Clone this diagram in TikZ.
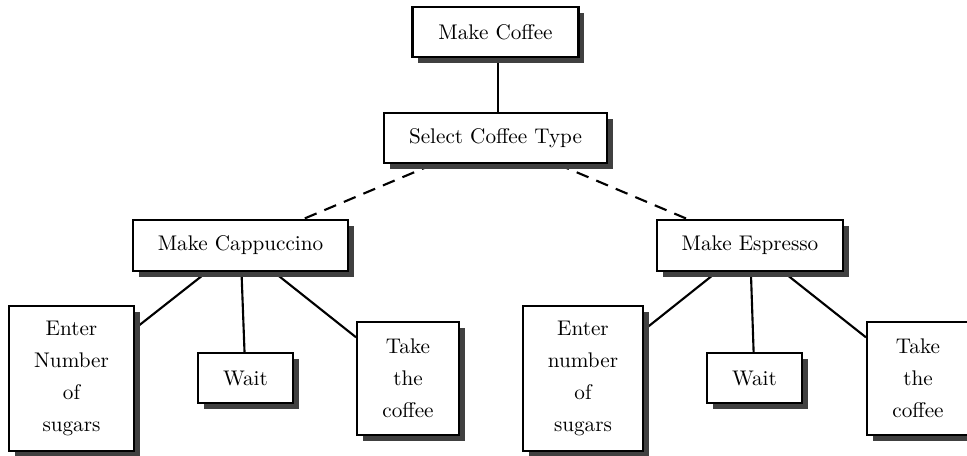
\documentclass[tikz,border=0pt]{standalone}
\usetikzlibrary{shadows,backgrounds}
\begin{document}
\begin{tikzpicture}[x=0.472pt,y=-0.472pt,
  box/.style={draw, line width=1pt, fill=white, align=center, inner sep=0pt,
    drop shadow={shadow xshift=2.8pt, shadow yshift=-2.8pt, fill=black!75, opacity=1}},
  link/.style={line width=1pt},
  dlink/.style={line width=1pt, dash pattern=on 6pt off 4pt}]
\useasboundingbox (0,0) rectangle (967,455);
\node[box, minimum width=78.4pt, minimum height=23.6pt] (mc) at (495.5,32) {Make Coffee};
\node[box, minimum width=105.3pt, minimum height=23.6pt] (sct) at (495.5,138) {Select Coffee Type};
\node[box, minimum width=101.5pt, minimum height=24.1pt] (cap) at (240.5,245.5) {Make Cappuccino};
\node[box, minimum width=87.8pt, minimum height=24.1pt] (esp) at (750,245.5) {Make Espresso};
\node[box, minimum width=59pt, minimum height=68.4pt] (e1) at (71.5,378.5) {Enter\\[3pt]Number\\[3pt]of\\[3pt]sugars};
\node[box, minimum width=44.8pt, minimum height=23.6pt] (w1) at (245.5,378) {Wait};
\node[box, minimum width=48.1pt, minimum height=53.3pt] (t1) at (408,378.5) {Take\\[3pt]the\\[3pt]coffee};
\node[box, minimum width=56.6pt, minimum height=68.4pt] (e2) at (583,378.5) {Enter\\[3pt]number\\[3pt]of\\[3pt]sugars};
\node[box, minimum width=44.8pt, minimum height=23.6pt] (w2) at (754.5,378) {Wait};
\node[box, minimum width=48.1pt, minimum height=53.3pt] (t2) at (918,378.5) {Take\\[3pt]the\\[3pt]coffee};
\begin{scope}[on background layer]
\draw[link] ([xshift=1pt]mc.center) -- ([xshift=1pt]sct.center);
\draw[dlink] (sct) -- (cap);
\draw[dlink] (sct) -- (esp);
\draw[link] (cap) -- (e1);
\draw[link] (cap) -- (w1);
\draw[link] (cap) -- (t1);
\draw[link] (esp) -- (e2);
\draw[link] (esp) -- (w2);
\draw[link] (esp) -- (t2);
\end{scope}
\end{tikzpicture}
\end{document}
